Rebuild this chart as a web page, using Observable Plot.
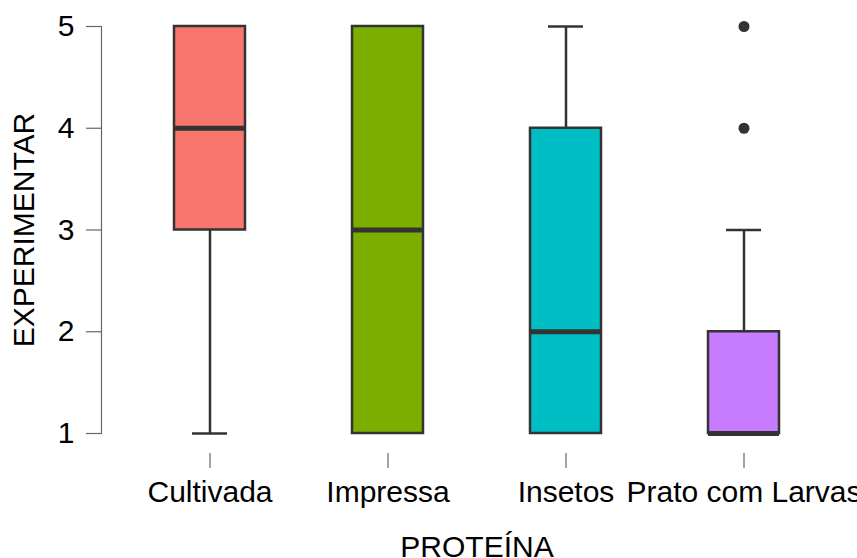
<!DOCTYPE html>
<html><head><meta charset="utf-8">
<script src="https://cdn.jsdelivr.net/npm/d3@7"></script>
<script src="https://cdn.jsdelivr.net/npm/@observablehq/plot@0.6"></script>
<style>body{margin:0;background:#fff;overflow:hidden}</style>
</head><body><div id="chart"></div>
<script>
const categories = ["Cultivada", "Impressa", "Insetos", "Prato com Larvas"];
const whiskerLow  = [1, 1, 1, 1];
const q1          = [3, 1, 1, 1];
const median      = [4, 3, 2, 1];
const q3          = [5, 5, 4, 2];
const whiskerHigh = [5, 5, 5, 3];
const outlierCategory = ["Prato com Larvas", "Prato com Larvas"];
const outlierValue    = [5, 4];
const colors = ["#F8766D", "#7CAE00", "#00BFC4", "#C77CFF"];
const yTicks = [1, 2, 3, 4, 5];
const xTitle = "PROTEÍNA";
const yTitle = "EXPERIMENTAR";

const boxes = categories.map((c, i) => ({c, lo: whiskerLow[i], q1: q1[i], med: median[i], q3: q3[i], hi: whiskerHigh[i]}));
const outliers = outlierCategory.map((c, i) => ({c, v: outlierValue[i]}));
const ink = "#333333";
const font = "'Liberation Sans', Arial, Helvetica, sans-serif";

const chart = Plot.plot({
  width: 857,
  height: 558,
  marginLeft: 101,
  marginRight: 5,
  marginTop: 26,
  marginBottom: 125,
  style: {fontFamily: font, fontSize: "30px", color: "black", background: "white", overflow: "visible"},
  x: {type: "band", domain: categories, paddingInner: 0.6, paddingOuter: 0.4, axis: null},
  y: {domain: [1, 5], axis: null},
  color: {domain: categories, range: colors},
  marks: [
    Plot.frame({anchor: "left", stroke: "#666", strokeWidth: 1.2}),
    Plot.axisY({ticks: yTicks, tickFormat: d3.format("d"), tickSize: 15, tickPadding: 12, fontSize: 30, stroke: "#666", strokeWidth: 1.2, fill: "black", label: null}),
    Plot.axisX({tickSize: 15, tickPadding: 12, dy: 20, fontSize: 30, stroke: "#666", strokeWidth: 1.2, fill: "black", label: null}),
    Plot.ruleX(boxes, {x: "c", y1: "lo", y2: "hi", stroke: ink, strokeWidth: 2.5}),
    Plot.tickY(boxes.filter(d => d.lo < d.q1), {x: "c", y: "lo", stroke: ink, strokeWidth: 2.5, insetLeft: 18, insetRight: 18}),
    Plot.tickY(boxes.filter(d => d.hi > d.q3), {x: "c", y: "hi", stroke: ink, strokeWidth: 2.5, insetLeft: 18, insetRight: 18}),
    Plot.barY(boxes, {x: "c", y1: "q1", y2: "q3", fill: "c", stroke: ink, strokeWidth: 2.5}),
    Plot.tickY(boxes, {x: "c", y: "med", stroke: ink, strokeWidth: 5}),
    Plot.dot(outliers, {x: "c", y: "v", r: 5.5, fill: ink, stroke: "none"}),
    Plot.text([yTitle], {text: d => d, frameAnchor: "left", textAnchor: "middle", dx: -77, rotate: -90, fontSize: 30, fill: "black"}),
    Plot.text([xTitle], {text: d => d, frameAnchor: "bottom", dy: 123, fontSize: 30, fill: "black"})
  ]
});
document.getElementById("chart").appendChild(chart);
</script>
</body></html>
